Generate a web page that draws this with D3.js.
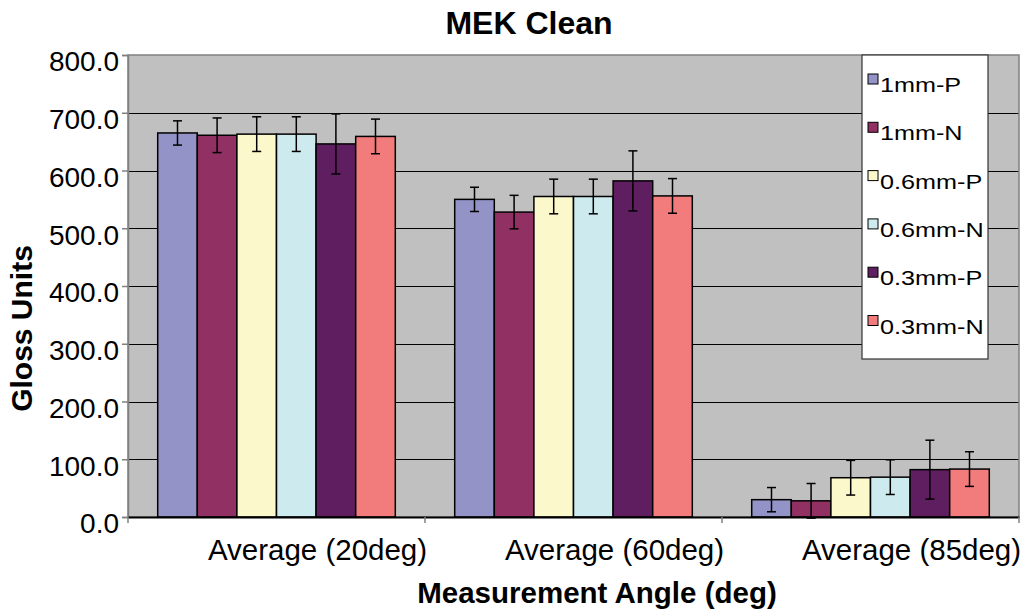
<!DOCTYPE html>
<html><head><meta charset="utf-8">
<script src="https://cdn.jsdelivr.net/npm/d3@7"></script>
<style>body{margin:0;background:#fff}svg{display:block;font-family:"Liberation Sans",Arial,sans-serif}</style>
</head><body><svg id="c" width="1022" height="610"></svg>
<script>
const categories = ["Average (20deg)", "Average (60deg)", "Average (85deg)"];
const seriesNames = ["1mm-P", "1mm-N", "0.6mm-P", "0.6mm-N", "0.3mm-P", "0.3mm-N"];
const values_1mmP = [665, 550, 30];
const values_1mmN = [661, 528, 28];
const values_06mmP = [663, 555, 68];
const values_06mmN = [663, 555, 69];
const values_03mmP = [646, 582, 82];
const values_03mmN = [659, 556, 83];
const err_1mmP = [21, 21, 21];
const err_1mmN = [30, 29, 30];
const err_06mmP = [30, 30, 30];
const err_06mmN = [30, 30, 30];
const err_03mmP = [52, 52, 51];
const err_03mmN = [30, 30, 30];
const yTicks = [0, 100, 200, 300, 400, 500, 600, 700, 800];
const colors = ["#9393C8", "#913163", "#FBF8CC", "#CDEBEF", "#5F1E60", "#F27C7C"];

const allValues = [values_1mmP, values_1mmN, values_06mmP, values_06mmN, values_03mmP, values_03mmN];
const allErr = [err_1mmP, err_1mmN, err_06mmP, err_06mmN, err_03mmP, err_03mmN];

const svg = d3.select("#c");
const L = 128, R = 1019, T = 55, B = 517;
const y = d3.scaleLinear().domain([0, 800]).range([B, T]);
const x0 = d3.scaleBand().domain(categories).range([L, R]).paddingInner(0).paddingOuter(0);
const x1 = d3.scaleBand().domain(seriesNames).range([0, x0.bandwidth()]).paddingInner(0).paddingOuter(0.75);

// plot area
svg.append("rect").attr("x", L).attr("y", T).attr("width", R - L).attr("height", B - T).attr("fill", "#C0C0C0");
// gridlines
svg.append("g").selectAll("line").data(yTicks.filter(d => d > 0 && d < 800)).join("line")
  .attr("x1", L).attr("x2", R).attr("y1", d => Math.round(y(d)) + 0.5).attr("y2", d => Math.round(y(d)) + 0.5)
  .attr("stroke", "#000").attr("stroke-width", 1);
// border
svg.append("rect").attr("x", L).attr("y", T).attr("width", R - L).attr("height", B - T)
  .attr("fill", "none").attr("stroke", "#808080").attr("stroke-width", 1.5);

// bars
const data = [];
categories.forEach((c, ci) => seriesNames.forEach((s, si) => data.push({c, s, si, v: allValues[si][ci], e: allErr[si][ci]})));
const g = svg.append("g");
g.selectAll("rect").data(data).join("rect")
  .attr("x", d => x0(d.c) + x1(d.s)).attr("width", x1.bandwidth())
  .attr("y", d => y(d.v)).attr("height", d => y(0) - y(d.v))
  .attr("fill", d => colors[d.si]).attr("stroke", "#000").attr("stroke-width", 1.5);

// error bars
const eg = svg.append("g").attr("stroke", "#000").attr("stroke-width", 1.5);
data.forEach(d => {
  const cx = x0(d.c) + x1(d.s) + x1.bandwidth() / 2;
  eg.append("line").attr("x1", cx).attr("x2", cx).attr("y1", y(d.v + d.e)).attr("y2", y(d.v - d.e));
  eg.append("line").attr("x1", cx - 4.5).attr("x2", cx + 4.5).attr("y1", y(d.v + d.e)).attr("y2", y(d.v + d.e));
  eg.append("line").attr("x1", cx - 4.5).attr("x2", cx + 4.5).attr("y1", y(d.v - d.e)).attr("y2", y(d.v - d.e));
});

// y axis
const yAxis = d3.axisLeft(y).tickValues(yTicks).tickSize(6).tickPadding(3).tickFormat(d3.format(".1f"));
const ya = svg.append("g").attr("transform", `translate(${L},0)`).call(yAxis);
ya.select(".domain").attr("stroke", "#808080").attr("stroke-width", 1.5);
ya.selectAll(".tick line").attr("stroke", "#808080").attr("stroke-width", 1.5);
ya.selectAll(".tick text").attr("font-size", 28).attr("fill", "#000").attr("dy", "0.32em").attr("y", 7)
  .attr("font-family", "Liberation Sans, Arial, sans-serif");

// x axis
const xAxis = d3.axisBottom(x0).tickSize(0).tickFormat("");
const xa = svg.append("g").attr("transform", `translate(0,${B})`).call(xAxis);
xa.select(".domain").attr("stroke", "#000").attr("stroke-width", 2);
// category boundary ticks
const bounds = categories.map(c => x0(c)).concat([R]);
xa.selectAll("line.bt").data(bounds).join("line").attr("class", "bt")
  .attr("x1", d => d).attr("x2", d => d).attr("y1", 0).attr("y2", 6)
  .attr("stroke", "#808080").attr("stroke-width", 1.5);
svg.append("g").selectAll("text").data(categories).join("text")
  .attr("x", d => x0(d) + x0.bandwidth() / 2 + 41).attr("y", 560)
  .attr("text-anchor", "middle").attr("font-size", 29.5).text(d => d);

// titles
svg.append("text").attr("x", 529).attr("y", 34).attr("text-anchor", "middle")
  .attr("font-size", 32).attr("font-weight", "bold").text("MEK Clean");
svg.append("text").attr("x", 597).attr("y", 603).attr("text-anchor", "middle")
  .attr("font-size", 29.5).attr("font-weight", "bold").text("Measurement Angle (deg)");
svg.append("text").attr("transform", "translate(32,328.5) rotate(-90)").attr("text-anchor", "middle")
  .attr("font-size", 30).attr("font-weight", "bold").text("Gloss Units");

// legend
const lg = svg.append("g");
lg.append("rect").attr("x", 862).attr("y", 55).attr("width", 126).attr("height", 304)
  .attr("fill", "#fff").attr("stroke", "#333").attr("stroke-width", 1.2);
seriesNames.forEach((s, i) => {
  const by = 92 + i * 48.3;
  lg.append("rect").attr("x", 868).attr("y", by - 18).attr("width", 10).attr("height", 10)
    .attr("fill", colors[i]).attr("stroke", "#000").attr("stroke-width", 1);
  lg.append("text").attr("transform", `translate(880,${by}) scale(1.2,1)`)
    .attr("font-size", 21).text(s);
});
</script></body></html>
